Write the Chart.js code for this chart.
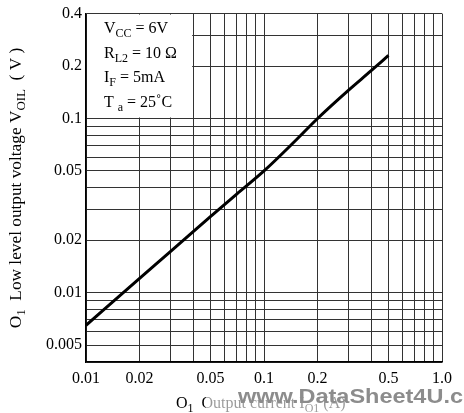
<!DOCTYPE html>
<html>
<head>
<meta charset="utf-8">
<script src="https://cdn.jsdelivr.net/npm/chart.js@4/dist/chart.umd.min.js"></script>
<style>
  html, body { margin: 0; padding: 0; background: #fff; }
  canvas { display: block; }
</style>
</head>
<body>
<canvas id="vol" width="464" height="413"></canvas>
<script>
// output current I_O1 (A) and low level output voltage V_OIL (V)
const currentA = [0.01, 0.02, 0.03, 0.05, 0.07, 0.1, 0.15, 0.2, 0.3, 0.4, 0.5];
const voltageV = [0.0065, 0.0121, 0.0173, 0.0273, 0.0367, 0.05, 0.0745, 0.1, 0.146, 0.188, 0.23];

const xLabels = ['0.01', '0.02', '0.05', '0.1', '0.2', '0.5', '1.0'];
const yLabels = ['0.005', '0.01', '0.02', '0.05', '0.1', '0.2', '0.4'];

const xGrid = [0.01, 0.02, 0.03, 0.04, 0.05, 0.06, 0.07, 0.08, 0.09,
  0.1, 0.2, 0.3, 0.4, 0.5, 0.6, 0.7, 0.8, 0.9, 1.0];
const yGrid = [0.004, 0.005, 0.006, 0.007, 0.008, 0.009,
  0.01, 0.02, 0.03, 0.04, 0.05, 0.06, 0.07, 0.08, 0.09,
  0.1, 0.2, 0.3, 0.4];

const SERIF = '"Liberation Serif", "DejaVu Serif", serif';

function labelFor(list, v) {
  const hit = list.find(s => Math.abs(parseFloat(s) - v) < v * 1e-6);
  return hit || '';
}

// draw a run of text pieces, some of them as subscripts
function drawRich(ctx, parts, x, y, size, align) {
  const subSize = Math.round(size * 0.72);
  const widths = parts.map(p => {
    ctx.font = (p.sub ? subSize : size) + 'px ' + SERIF;
    return ctx.measureText(p.t).width;
  });
  const total = widths.reduce((a, b) => a + b, 0);
  let cx = align === 'center' ? x - total / 2 : x;
  ctx.textAlign = 'left';
  ctx.textBaseline = 'alphabetic';
  parts.forEach((p, i) => {
    ctx.font = (p.sub ? subSize : size) + 'px ' + SERIF;
    ctx.fillText(p.t, cx, p.sub ? y + size * 0.25 : y);
    cx += widths[i];
  });
}

const conditionLines = [
  [{ t: 'V' }, { t: 'CC', sub: true }, { t: ' = 6V' }],
  [{ t: 'R' }, { t: 'L2', sub: true }, { t: ' = 10 Ω' }],
  [{ t: 'I' }, { t: 'F', sub: true }, { t: ' = 5mA' }],
  [{ t: 'T ' }, { t: 'a', sub: true }, { t: ' = 25˚C' }],
];

const notePlugin = {
  id: 'notes',
  beforeDatasetsDraw(chart) {
    const { ctx, scales: { x, y } } = chart;
    // blank cell holding the test conditions
    const l = x.getPixelForValue(0.01) + 1;
    const r = x.getPixelForValue(0.04) - 1;
    const t = y.getPixelForValue(0.4) + 1;
    const b = y.getPixelForValue(0.1) - 1;
    ctx.save();
    ctx.fillStyle = '#fff';
    ctx.fillRect(l, t, r - l, b - t);
    ctx.fillStyle = '#000';
    conditionLines.forEach((line, i) => drawRich(ctx, line, 104, 33 + i * 24.5, 16, 'left'));
    ctx.restore();
  },
  afterDraw(chart) {
    const { ctx } = chart;
    ctx.save();
    ctx.fillStyle = '#000';
    // vertical axis title, a little stretched along its run
    ctx.translate(16, 188);
    ctx.rotate(-Math.PI / 2);
    ctx.scale(1.08, 1);
    drawRich(ctx, [{ t: 'O' }, { t: '1', sub: true }, { t: '  Low level output voltage V' },
      { t: 'OIL', sub: true }, { t: '  ( V )' }], 0, 5, 16, 'center');
    ctx.restore();

    ctx.save();
    ctx.fillStyle = '#000';
    drawRich(ctx, [{ t: 'O' }, { t: '1', sub: true }, { t: '  Output current I' },
      { t: 'O1', sub: true }, { t: ' (A)' }], 176, 408, 16, 'left');
    ctx.fillStyle = 'rgba(255,255,255,0.6)';
    ctx.fillRect(206, 390, 258, 23);
    // site stamp across the bottom right
    ctx.font = 'bold 21px "Liberation Sans", Arial, sans-serif';
    const stamp = 'www.DataSheet4U.com';
    const w = ctx.measureText('www.DataSheet4U.c').width;
    ctx.translate(238, 403);
    ctx.scale(225 / w, 1);
    ctx.fillStyle = '#8c8c8c';
    ctx.textAlign = 'left';
    ctx.textBaseline = 'alphabetic';
    ctx.fillText(stamp, 0, 0);
    ctx.restore();
  },
};

new Chart(document.getElementById('vol').getContext('2d'), {
  type: 'line',
  data: {
    datasets: [{
      data: currentA.map((c, i) => ({ x: c, y: voltageV[i] })),
      borderColor: '#000',
      borderWidth: 3,
      pointRadius: 0,
      cubicInterpolationMode: 'monotone',
      fill: false,
    }],
  },
  options: {
    responsive: false,
    animation: false,
    layout: { padding: { top: 6, right: 22, left: 0, bottom: 0 } },
    plugins: { legend: { display: false }, tooltip: { enabled: false } },
    scales: {
      x: {
        type: 'logarithmic',
        min: 0.01,
        max: 1,
        afterBuildTicks: s => { s.ticks = xGrid.map(v => ({ value: v })); },
        afterFit: s => { s.height = 51; },
        grid: { color: '#333', lineWidth: 1, drawTicks: false },
        border: { color: '#000', width: 1.5 },
        ticks: {
          autoSkip: false,
          maxRotation: 0,
          padding: 7,
          color: '#000',
          font: { family: SERIF, size: 16 },
          callback: v => labelFor(xLabels, v),
        },
      },
      y: {
        type: 'logarithmic',
        min: 0.004,
        max: 0.4,
        afterBuildTicks: s => { s.ticks = yGrid.map(v => ({ value: v })); },
        afterFit: s => { s.width = 86; },
        grid: { color: '#333', lineWidth: 1, drawTicks: false },
        border: { color: '#000', width: 1.5 },
        ticks: {
          autoSkip: false,
          padding: 4,
          color: '#000',
          font: { family: SERIF, size: 16 },
          callback: v => labelFor(yLabels, v),
        },
      },
    },
  },
  plugins: [notePlugin],
});
</script>
</body>
</html>
